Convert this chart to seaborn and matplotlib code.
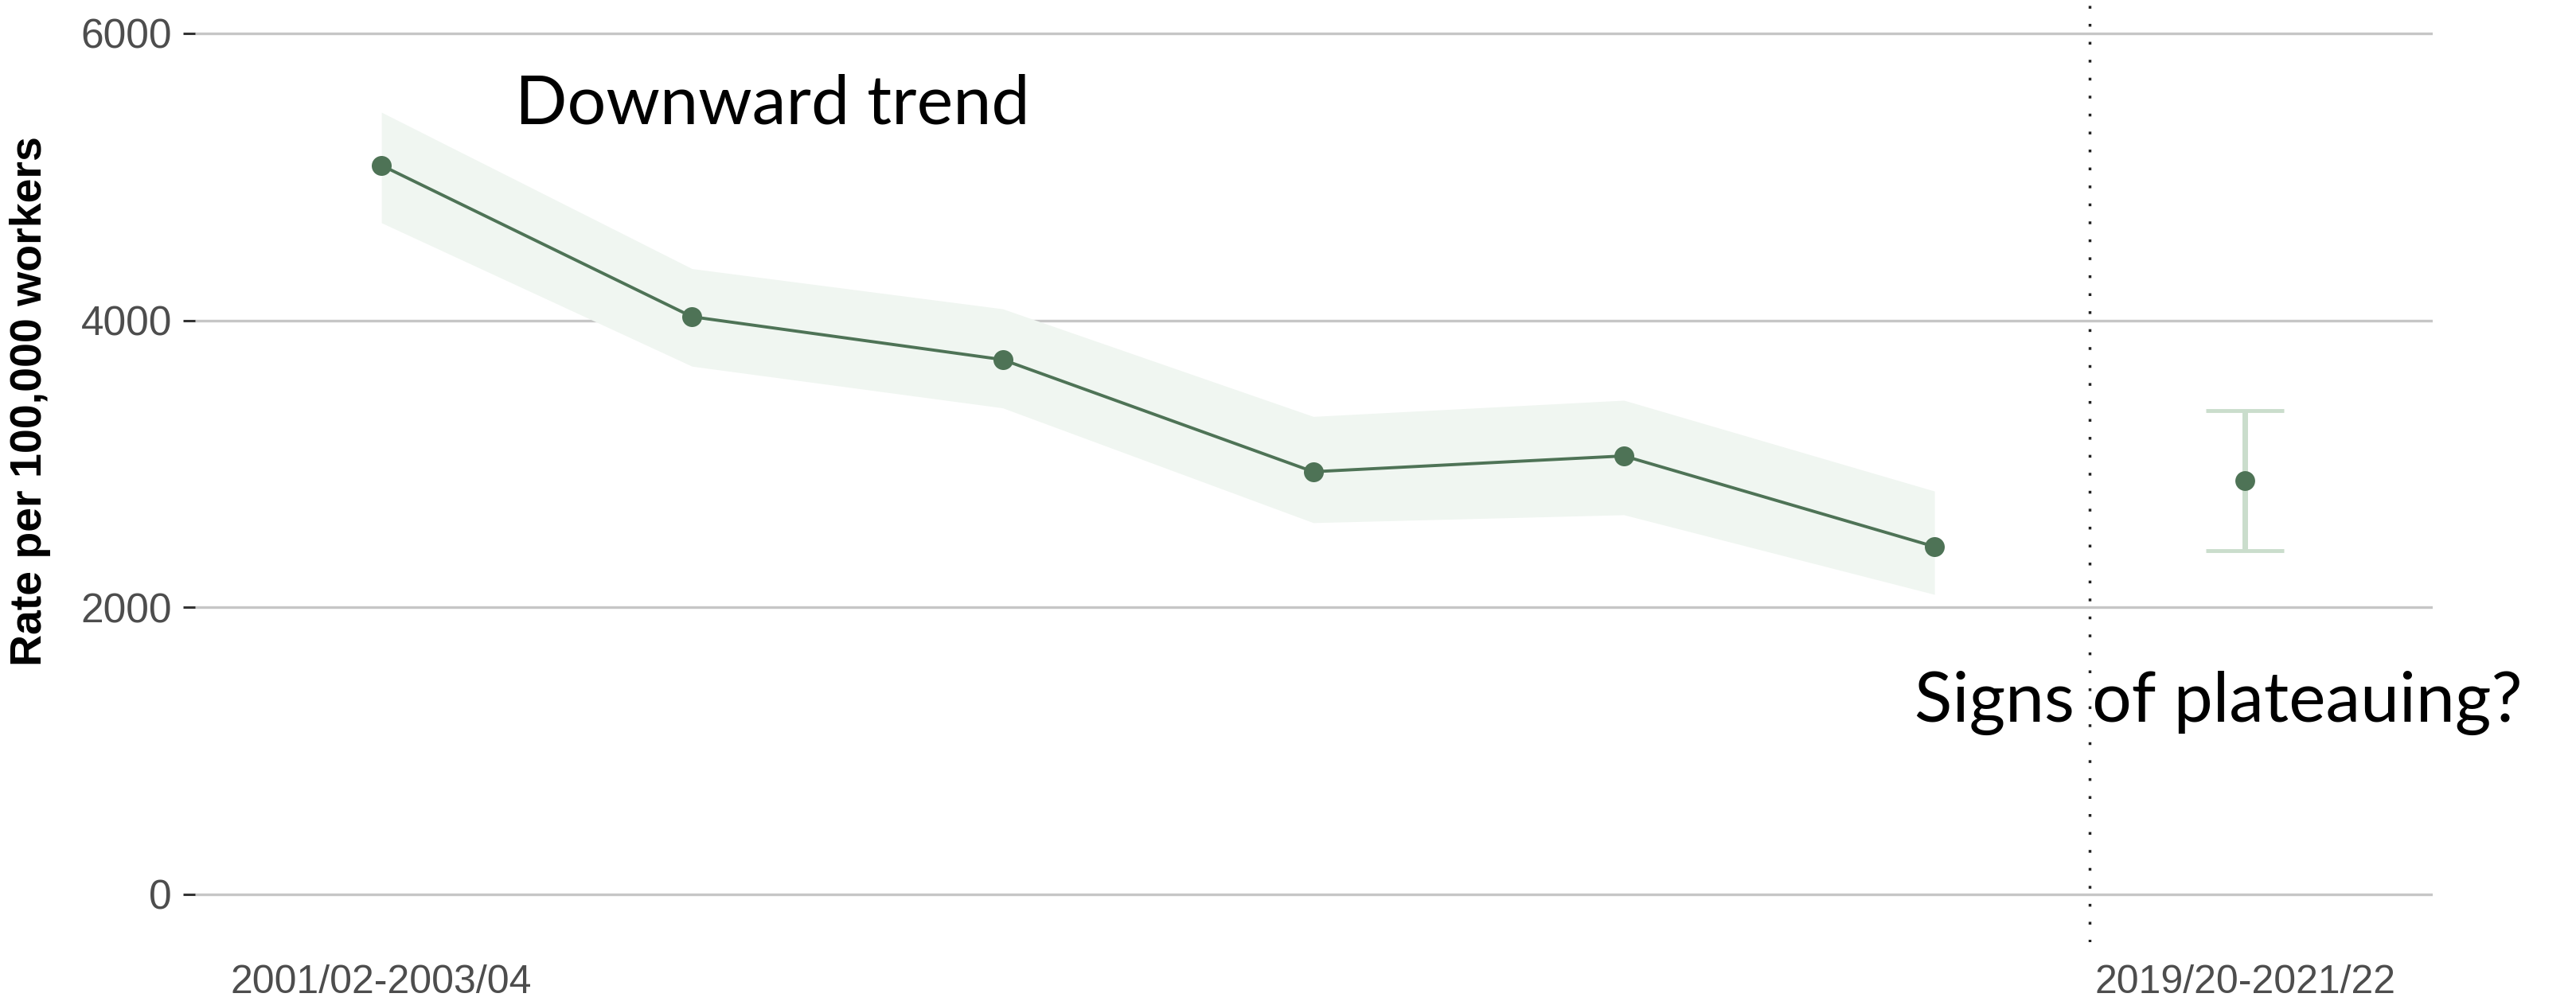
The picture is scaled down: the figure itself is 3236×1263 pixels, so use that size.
import matplotlib
matplotlib.use("Agg")
import matplotlib.pyplot as plt
import seaborn as sns
import pandas as pd
import numpy as np

# ---- data ----
periods = ["2001/02-2003/04", "2004/05-2006/07", "2007/08-2009/10",
           "2010/11-2012/13", "2013/14-2015/16", "2016/17-2018/19",
           "2019/20-2021/22"]
trend_rate = [5080, 4025, 3726, 2945, 3055, 2423]
trend_lower = [4680, 3680, 3390, 2590, 2645, 2090]
trend_upper = [5450, 4360, 4080, 3330, 3443, 2810]
latest_rate = [2885]
latest_lower = [2395]
latest_upper = [3371]
shown_tick_labels = ["2001/02-2003/04", "2019/20-2021/22"]
y_ticks = [0, 2000, 4000, 6000]
y_label = "Rate per 100,000 workers"
note_left = "Downward trend"
note_right = "Signs of plateauing?"

sns.set_theme(style="white")
plt.rcParams["font.family"] = ["Liberation Sans", "DejaVu Sans"]

W, H = 3236, 1263
fig = plt.figure(figsize=(W / 100, H / 100), dpi=100)
ax = fig.add_axes([245 / W, 1 - 1184 / H, (3056 - 245) / W, 1184 / H])

pos = {p: i for i, p in enumerate(periods)}
trend_df = pd.DataFrame({
    "x": [pos[p] for p in periods[:6]],
    "rate": trend_rate,
    "lo": trend_lower,
    "hi": trend_upper,
})
latest_df = pd.DataFrame({
    "x": [pos[periods[6]]],
    "rate": latest_rate,
    "lo": latest_lower,
    "hi": latest_upper,
})

line_col = "#4E7356"
band_col = "#F0F6F1"
err_col = "#CADDCC"

# horizontal grid
for yv in y_ticks:
    ax.axhline(yv, color="#C6C6C6", lw=2.4, zorder=0)

ax.fill_between(trend_df["x"], trend_df["lo"], trend_df["hi"],
                color=band_col, lw=0, zorder=1)
sns.lineplot(data=trend_df, x="x", y="rate", ax=ax, color=line_col,
             lw=2.8, marker="o", markersize=18, markeredgewidth=0,
             zorder=3)

ax.errorbar(latest_df["x"], latest_df["rate"],
            yerr=[latest_df["rate"] - latest_df["lo"],
                  latest_df["hi"] - latest_df["rate"]],
            fmt="none", ecolor=err_col, elinewidth=5, capsize=35,
            capthick=3.5, zorder=2)
sns.scatterplot(data=latest_df, x="x", y="rate", ax=ax, color=line_col,
                s=320, linewidth=0, zorder=4)

# divider between periods
ax.axvline(5.5, color="#222222", lw=2.5, ls=(0, (1, 5.5)), zorder=2)

ax.set_xlim(-0.6, 6.604)
ax.set_ylim(-333, 6232)
ax.set_xticks([pos[l] for l in shown_tick_labels])
ax.set_xticklabels(shown_tick_labels, fontsize=36, color="#4D4D4D")
ax.set_yticks(y_ticks)
ax.set_yticklabels([str(v) for v in y_ticks], fontsize=37, color="#4D4D4D")
ax.tick_params(axis="x", length=0, pad=20)
ax.tick_params(axis="y", length=11, width=2.2, color="#333333", pad=10,
               left=True)
ax.set_xlabel("")
ax.set_ylabel(y_label, fontsize=40, fontweight="bold", color="black")
ax.yaxis.set_label_coords(-0.0644, 0.574)
for s in ax.spines.values():
    s.set_visible(False)
ax.grid(False)
ax.set_facecolor("white")

fig.text(647 / W, 1 - 155 / H, note_left, fontsize=62, family=["Lato", "DejaVu Sans"],
         color="black", va="baseline", ha="left")
fig.text(2405 / W, 1 - 907 / H, note_right, fontsize=63, family=["Lato", "DejaVu Sans"],
         color="black", va="baseline", ha="left")

fig.savefig("out.png", dpi=100, facecolor="white")
